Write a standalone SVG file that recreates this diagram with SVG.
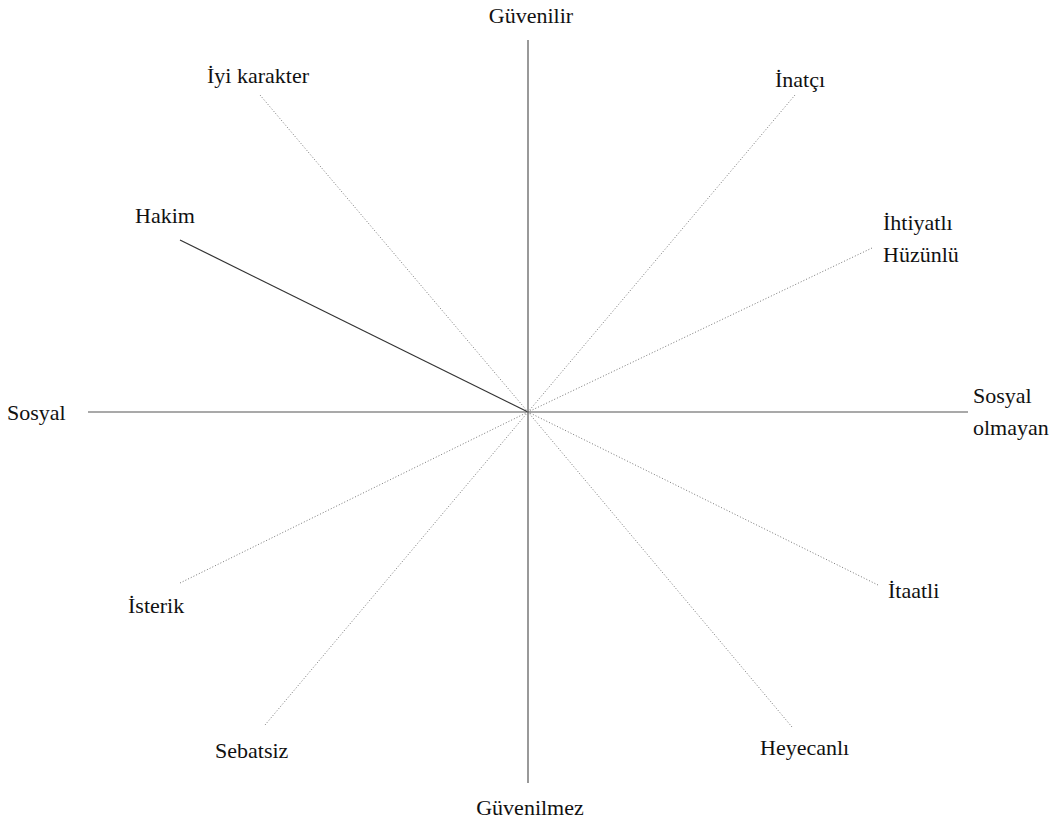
<svg xmlns="http://www.w3.org/2000/svg" width="1060" height="828" viewBox="0 0 1060 828">
<style>
text{font-family:"Liberation Serif","Tinos","Noto Serif","FreeSerif","Times",serif;font-size:22px;fill:#111}
.axis{stroke:#555;stroke-width:1.2;fill:none}
.solid{stroke:#333;stroke-width:1.2;fill:none}
.dot{stroke:#777;stroke-width:1;stroke-dasharray:1 2;fill:none}
</style>
<rect width="1060" height="828" fill="#fff"/>
<g id="connectors">
<line class="axis" x1="528" y1="40" x2="528" y2="783"/>
<line class="axis" x1="88" y1="412" x2="968" y2="412"/>
<line class="solid" x1="180" y1="240" x2="528" y2="412"/>
<line class="dot" x1="260" y1="95" x2="528" y2="412"/>
<line class="dot" x1="795" y1="95" x2="528" y2="412"/>
<line class="dot" x1="872" y1="248" x2="528" y2="412"/>
<line class="dot" x1="180" y1="583" x2="528" y2="412"/>
<line class="dot" x1="878" y1="585" x2="528" y2="412"/>
<line class="dot" x1="265" y1="725" x2="528" y2="412"/>
<line class="dot" x1="792" y1="727" x2="528" y2="412"/>
</g>
<g id="guvenilir"><text x="531" y="23" text-anchor="middle">Güvenilir</text></g>
<g id="guvenilmez"><text x="530" y="815" text-anchor="middle">Güvenilmez</text></g>
<g id="sosyal"><text x="7" y="420">Sosyal</text></g>
<g id="sosyal-olmayan"><text x="973" y="403">Sosyal</text><text x="973" y="435">olmayan</text></g>
<g id="iyi-karakter"><text x="207" y="83">İyi karakter</text></g>
<g id="inatci"><text x="775" y="87">İnatçı</text></g>
<g id="ihtiyatli"><text x="883" y="230">İhtiyatlı</text><text x="883" y="262">Hüzünlü</text></g>
<g id="hakim"><text x="135" y="223">Hakim</text></g>
<g id="isterik"><text x="128" y="613">İsterik</text></g>
<g id="itaatli"><text x="888" y="598">İtaatli</text></g>
<g id="sebatsiz"><text x="215" y="758">Sebatsiz</text></g>
<g id="heyecanli"><text x="760" y="755">Heyecanlı</text></g>
</svg>
